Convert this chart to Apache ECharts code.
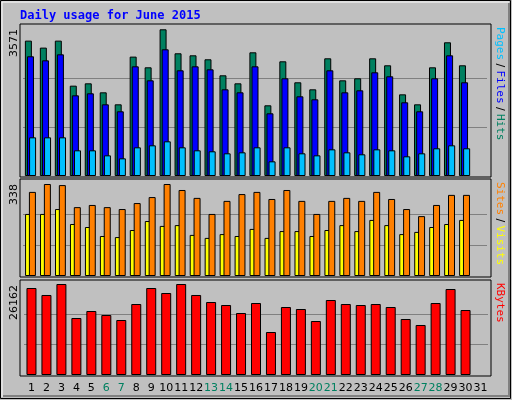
<!DOCTYPE html>
<html><head><meta charset="utf-8">
<script src="https://cdn.jsdelivr.net/npm/echarts@6/dist/echarts.min.js"></script>
<style>html,body{margin:0;padding:0;background:#c0c0c0}#c{width:512px;height:400px}</style>
</head><body><div id="c"></div>
<script>
const days = Array.from({length:31},(_,i)=>String(i+1));
const weekendDays = ['6','7','13','14','20','21','27','28'];
const hits  = [3295,3125,3295,2199,2256,2037,1745,2906,2646,3571,2987,2938,2841,2451,2256,3011,1721,2792,2281,2110,2865,2329,2378,2865,2695,1988,1745,2646,3255,2695];
const files = [2914,2816,2962,1964,2013,1745,1575,2670,2329,3084,2573,2670,2597,2110,2037,2670,1526,2378,1940,1867,2573,2037,2086,2524,2427,1794,1575,2378,2938,2281];
const pages = [941,941,941,625,625,503,430,698,747,844,698,625,601,552,576,698,357,698,552,503,649,576,528,649,625,479,552,674,747,674];
const visits = [309,338,334,253,261,253,246,268,290,338,316,287,228,276,301,309,283,316,276,228,276,287,276,309,283,246,220,261,298,298];
const sites  = [228,228,246,191,180,147,143,169,202,184,187,151,140,154,147,173,140,165,165,147,169,187,165,206,187,154,162,180,191,206];
const kbytes = [25012,23000,26162,16387,18399,17250,15812,20412,25012,23574,26162,23000,20987,20124,17824,20699,12362,19549,18974,15524,21562,20412,20124,20412,19549,16099,14375,20699,24724,18687];
const maxLabels = ['3571','338','26162'];

const chart = echarts.init(document.getElementById('c'));
const gridDefs = [{top:25,height:151},{top:180,height:96},{top:281,height:94}];
const maxes = [3571,338,26162];
const scale = [151/146.7, 96/92, 94/91];
const bs = {borderColor:'#000',borderWidth:1};
function yAx(i){
  const m = maxes[i];
  return {gridIndex:i,type:'value',min:0,max:m*scale[i],interval:m/3,
    axisLabel:{show:false},axisTick:{show:false},axisLine:{show:false},
    splitLine:{lineStyle:{color:['rgba(0,0,0,0)','#808080','#808080','rgba(0,0,0,0)','rgba(0,0,0,0)'],width:1}}};
}
function xAx(i){
  return {gridIndex:i,type:'category',data:days,axisTick:{show:false},axisLine:{show:false},
    axisLabel:i===2?{show:true,interval:0,margin:8,fontFamily:'DejaVu Sans',fontSize:11,
      color:(v)=>weekendDays.includes(v)?'#008060':'#000'}:{show:false}};
}
const panels = gridDefs.map(g=>({type:'rect',shape:{x:20,y:g.top-1,width:471,height:g.height+2},
  style:{fill:'#c0c0c0',stroke:'#000',lineWidth:1},z:-10}));
function vtext(x,yBottom,rich,txt,z){
  return {type:'text',x:x,y:yBottom,rotation:Math.PI/2,style:{text:txt,rich:rich,fontFamily:'DejaVu Sans Mono',fontSize:11,fill:'#000',textAlign:'left',textVerticalAlign:'middle'}};
}
const rich={p:{fill:'#00c0ff',fontFamily:'DejaVu Sans Mono',fontSize:11},f:{fill:'#0000ff',fontFamily:'DejaVu Sans Mono',fontSize:11},
  h:{fill:'#008060',fontFamily:'DejaVu Sans Mono',fontSize:11},s:{fill:'#ff8000',fontFamily:'DejaVu Sans Mono',fontSize:11},
  v:{fill:'#ffff00',fontFamily:'DejaVu Sans Mono',fontSize:11},k:{fill:'#ff0000',fontFamily:'DejaVu Sans Mono',fontSize:11},
  n:{fill:'#000',fontFamily:'DejaVu Sans',fontSize:11}};
chart.setOption({
  animation:false,
  backgroundColor:'#c0c0c0',
  grid:[{left:23,width:464,top:25,height:151},{left:23,width:464,top:180,height:96},{left:24,width:464,top:281,height:94}],
  xAxis:[xAx(0),xAx(1),xAx(2)],
  yAxis:[yAx(0),yAx(1),yAx(2)],
  graphic:[
    {type:'rect',shape:{x:0.5,y:0.5,width:510,height:398},style:{fill:'#c0c0c0',stroke:'#000',lineWidth:1},z:-20},
    {type:'polyline',shape:{points:[[2,397],[2,2],[509,2]]},style:{stroke:'#fff',lineWidth:1,fill:null},z:-19},
    {type:'polyline',shape:{points:[[3,396],[509,396],[509,3]]},style:{stroke:'#808080',lineWidth:2,fill:null},z:-19},
    ...panels,
    {type:'text',x:20,y:16,style:{text:'Daily usage for June 2015',fontFamily:'DejaVu Sans Mono',fontWeight:'bold',fontSize:12,fill:'#0000ff',textVerticalAlign:'middle'}},
    {type:'text',x:500,y:27,rotation:-Math.PI/2,style:{text:'{p|Pages} {n|/} {f|Files} {n|/} {h|Hits}',rich:rich,textAlign:'left',textVerticalAlign:'middle'}},
    {type:'text',x:500,y:182,rotation:-Math.PI/2,style:{text:'{s|Sites} {n|/} {v|Visits}',rich:rich,textAlign:'left',textVerticalAlign:'middle'}},
    {type:'text',x:500,y:283,rotation:-Math.PI/2,style:{text:'{k|KBytes}',rich:rich,textAlign:'left',textVerticalAlign:'middle'}},
    ...maxLabels.map((t,i)=>({type:'text',x:14,y:gridDefs[i].top+4,rotation:Math.PI/2,
      style:{text:t,fontFamily:'DejaVu Sans',fontSize:11,fill:'#000',textAlign:'right',textVerticalAlign:'middle'}}))
  ],
  series:[
    {type:'bar',name:'Hits',xAxisIndex:0,yAxisIndex:0,data:hits,barWidth:7,barGap:'-70%',itemStyle:{color:'#008060',...bs}},
    {type:'bar',name:'Files',xAxisIndex:0,yAxisIndex:0,data:files,barWidth:7,barGap:'-70%',itemStyle:{color:'#0000ff',...bs}},
    {type:'bar',name:'Pages',xAxisIndex:0,yAxisIndex:0,data:pages,barWidth:7,barGap:'-70%',itemStyle:{color:'#00c0ff',...bs}},
    {type:'bar',name:'Visits',xAxisIndex:1,yAxisIndex:1,data:sites,barWidth:7,barGap:'-45%',itemStyle:{color:'#ffff00',...bs}},
    {type:'bar',name:'Sites',xAxisIndex:1,yAxisIndex:1,data:visits,barWidth:7,barGap:'-45%',itemStyle:{color:'#ff8000',...bs}},
    {type:'bar',name:'KBytes',xAxisIndex:2,yAxisIndex:2,data:kbytes,barWidth:10,itemStyle:{color:'#ff0000',...bs}}
  ]
});
</script></body></html>
